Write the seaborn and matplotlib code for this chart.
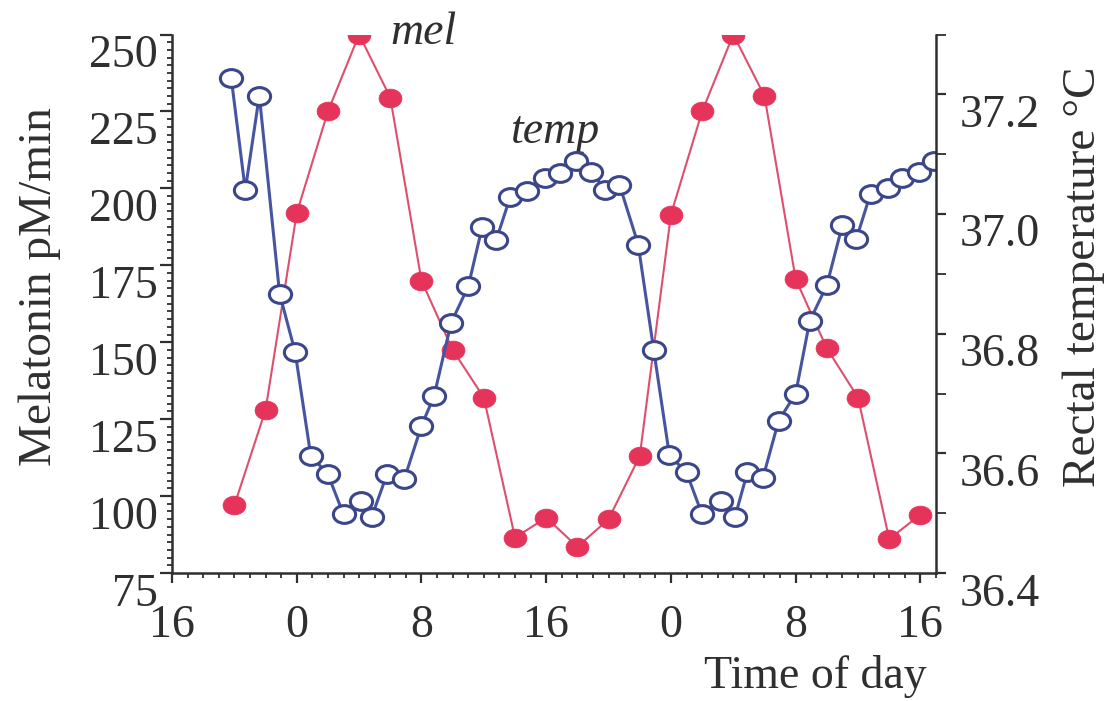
import numpy as np
import matplotlib
matplotlib.use("Agg")
import matplotlib.pyplot as plt
from matplotlib.markers import MarkerStyle
from matplotlib.transforms import Affine2D
import seaborn as sns

# ---- data (hours counted from 16:00 of the first day) ----
mel_hours = [4, 6, 8, 10, 12, 14, 16, 18, 20, 22, 24, 26, 28, 30, 32, 34, 36, 38, 40, 42, 44, 46, 48]
mel_values = [97, 128, 192, 225, 250, 229.5, 170, 147.5, 132, 86.5, 93, 83.5, 92.5, 113,
              191.5, 225, 250, 230, 170.5, 148, 132, 86, 94]

temp_hours = [3.8, 4.7, 5.6, 6.9, 7.9, 8.9, 10.0, 11.0, 12.1, 12.8, 13.8, 14.9, 16.0, 16.8,
              17.9, 19.0, 19.9, 20.8, 21.7, 22.8, 23.9, 24.9, 25.9, 26.9, 27.8, 28.7, 29.9,
              30.9, 31.9, 33.0, 34.0, 35.2, 36.1, 36.9, 37.9, 38.9, 40.0, 40.9, 42.0, 43.0,
              43.9, 44.8, 45.9, 46.8, 47.9, 48.9]
temp_values = [37.227, 37.040, 37.198, 36.867, 36.769, 36.596, 36.565, 36.498, 36.521, 36.493,
               36.566, 36.557, 36.646, 36.695, 36.818, 36.879, 36.979, 36.957, 37.029, 37.038,
               37.060, 37.068, 37.088, 37.071, 37.040, 37.049, 36.949, 36.772, 36.597, 36.568,
               36.498, 36.521, 36.493, 36.568, 36.559, 36.654, 36.700, 36.821, 36.881, 36.982,
               36.959, 37.034, 37.043, 37.060, 37.071, 37.089]

xtick_pos = [0, 8, 16, 24, 32, 40, 48]
xtick_labels = ["16", "0", "8", "16", "0", "8", "16"]
mel_ticks = [75, 100, 125, 150, 175, 200, 225, 250]
temp_ticks = [36.4, 36.6, 36.8, 37.0, 37.2]
temp_tick_labels = ["36.4", "36.6", "36.8", "37.0", "37.2"]

# ---- style ----
sns.set_theme(style="ticks")
plt.rcParams["font.family"] = ["Liberation Serif", "DejaVu Serif"]
INK = "#2f2f2f"
plt.rcParams.update({"axes.edgecolor": INK, "xtick.color": INK, "ytick.color": INK,
                     "text.color": INK, "axes.labelcolor": INK})

RED = "#e6335a"
RED_LINE = "#de4f6e"
BLUE_EDGE = "#3a4689"
BLUE_LINE = "#4755a0"

fig = plt.figure(figsize=(11.13, 7.01), dpi=100)
ax = fig.add_axes([172 / 1113, 1 - 573 / 701, (936 - 172) / 1113, (573 - 34.5) / 701])

ell_red = MarkerStyle("o", transform=Affine2D().scale(1.0, 0.82))
ell_blue = MarkerStyle("o", transform=Affine2D().scale(1.0, 0.80))

sns.lineplot(x=mel_hours, y=mel_values, ax=ax, color=RED_LINE, lw=1.5,
             marker=ell_red, markersize=16.5, markerfacecolor=RED,
             markeredgecolor=RED, markeredgewidth=0.5)

ax2 = ax.twinx()
sns.lineplot(x=temp_hours, y=temp_values, ax=ax2, color=BLUE_LINE, lw=2.2,
             marker=ell_blue, markersize=16, markerfacecolor="white",
             markeredgecolor=BLUE_EDGE, markeredgewidth=2.2)

# ---- axes ----
ax.set_xlim(0, 49)
ax.set_ylim(75, 250)
ax2.set_ylim(36.4, 37.3)

ax.set_xticks(xtick_pos)
ax.set_xticklabels(xtick_labels)
ax.set_xticks(np.arange(0, 50, 1), minor=True)
ax.set_yticks(mel_ticks)
ax.set_yticklabels([str(v) for v in mel_ticks])
ax.set_yticks(np.arange(75, 250.1, 2.5), minor=True)
ax2.set_yticks(temp_ticks)
ax2.set_yticklabels(temp_tick_labels)
ax2.set_yticks([36.5, 36.7, 36.9, 37.1, 37.3], minor=True)

for a in (ax, ax2):
    a.set_xlabel("")
    a.set_ylabel("")
    a.spines["top"].set_visible(False)
    for s in a.spines.values():
        s.set_linewidth(1.8)
        s.set_color(INK)
ax.spines["right"].set_visible(False)
ax2.spines["left"].set_visible(False)
ax2.spines["bottom"].set_visible(False)

ax.tick_params(axis="y", which="major", direction="out", length=9, width=1.6, pad=1.5, labelsize=33)
ax.tick_params(axis="y", which="minor", direction="out", length=3.5, width=1.3)
ax.tick_params(axis="x", which="major", direction="out", length=7, width=1.6, pad=16, labelsize=33)
ax.tick_params(axis="x", which="minor", direction="out", length=3.5, width=1.3)
ax2.tick_params(axis="y", which="major", direction="out", length=7, width=1.6, pad=10, labelsize=33)
ax2.tick_params(axis="y", which="minor", direction="out", length=7, width=1.3)

plt.setp(ax.get_yticklabels(), va="top")
plt.setp(ax2.get_yticklabels(), va="top")

# ---- annotations ----
ax.text(16.1, 250.5, "mel", style="italic", ha="center", va="center", fontsize=33, clip_on=False)
ax.text(24.6, 218.5, "temp", style="italic", ha="center", va="center", fontsize=33)

fig.text(40 / 1113, 1 - 287 / 701, "Melatonin pM/min", rotation=90, ha="center", va="center", fontsize=34)
fig.text(1084 / 1113, 1 - 277 / 701, "Rectal temperature °C", rotation=90, ha="center", va="center", fontsize=34)
fig.text(815 / 1113, 1 - 677 / 701, "Time of day", ha="center", va="center", fontsize=33)

fig.savefig("out.png", dpi=100)
